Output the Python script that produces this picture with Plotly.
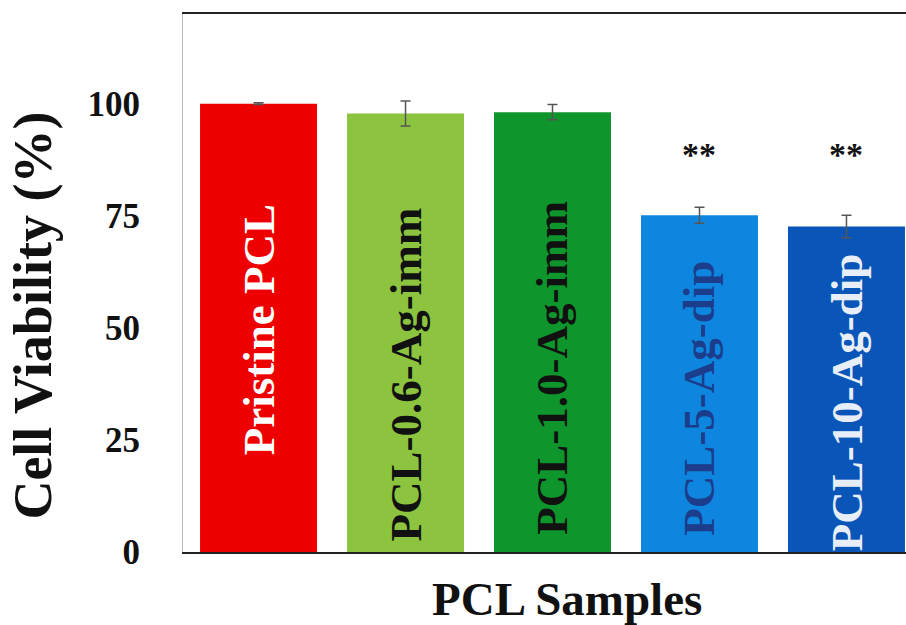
import plotly.graph_objects as go

categories = ["Pristine PCL", "PCL-0.6-Ag-imm", "PCL-1.0-Ag-imm", "PCL-5-Ag-dip", "PCL-10-Ag-dip"]
viability = [100.0, 97.8, 98.1, 75.1, 72.6]
errors = [0.2, 2.8, 1.7, 1.8, 2.5]
bar_colors = ["#ee0000", "#8cc43f", "#0e952c", "#0e86e0", "#0a55b8"]
label_colors = ["#ffffff", "#111111", "#111111", "#1b3d8c", "#e8eef8"]
label_y = [49.6, 39.5, 41.0, 34.3, 33.5]
significance = ["", "", "", "**", "**"]
sig_y = 88.6
y_ticks = [0, 25, 50, 75, 100]

serif = "Liberation Serif, Times New Roman, serif"
xpos = list(range(len(categories)))

fig = go.Figure()
fig.add_trace(go.Bar(
    x=xpos, y=viability,
    marker=dict(color=bar_colors, line=dict(width=0)),
    error_y=dict(type="data", array=errors, visible=True, color="#555555", thickness=1.5, width=5),
    width=0.796,
    showlegend=False,
))

for i, (lab, c, ly) in enumerate(zip(categories, label_colors, label_y)):
    fig.add_annotation(x=xpos[i], y=ly, text=f"<b>{lab}</b>", textangle=-90, showarrow=False,
                       font=dict(family=serif, size=45, color=c), xanchor="center", yanchor="middle")

for i, s in enumerate(significance):
    if s:
        fig.add_annotation(x=xpos[i], y=sig_y, text=f"<b>{s}</b>", showarrow=False,
                           font=dict(family=serif, size=34, color="#111111"), xanchor="center", yanchor="middle")

# axis titles
fig.add_annotation(xref="paper", yref="paper", x=0.531, y=-0.036, text="<b>PCL Samples</b>", showarrow=False,
                   font=dict(family=serif, size=47, color="#111111"), xanchor="center", yanchor="top")
fig.add_annotation(xref="paper", yref="paper", x=-0.207, y=0.44, text="<b>Cell Viability (%)</b>", showarrow=False,
                   textangle=-90, font=dict(family=serif, size=54, color="#111111"), xanchor="center", yanchor="middle")

fig.update_layout(
    width=906, height=625,
    margin=dict(l=183, r=0, t=14, b=73),
    paper_bgcolor="white", plot_bgcolor="white",
    xaxis=dict(range=[-0.514, 4.405], showticklabels=False, ticks="", showgrid=False, zeroline=False,
               showline=True, linecolor="#222222", linewidth=2, mirror=True),
    yaxis=dict(range=[0, 120], tickvals=y_ticks, ticktext=[f"<b>{v}</b>" for v in y_ticks],
               tickfont=dict(family=serif, size=35, color="#111111"), ticks="", showgrid=False, zeroline=False,
               showline=True, linecolor="#bbbbbb", linewidth=1, ticklabelstandoff=35),
)

fig.write_html("out.html")
